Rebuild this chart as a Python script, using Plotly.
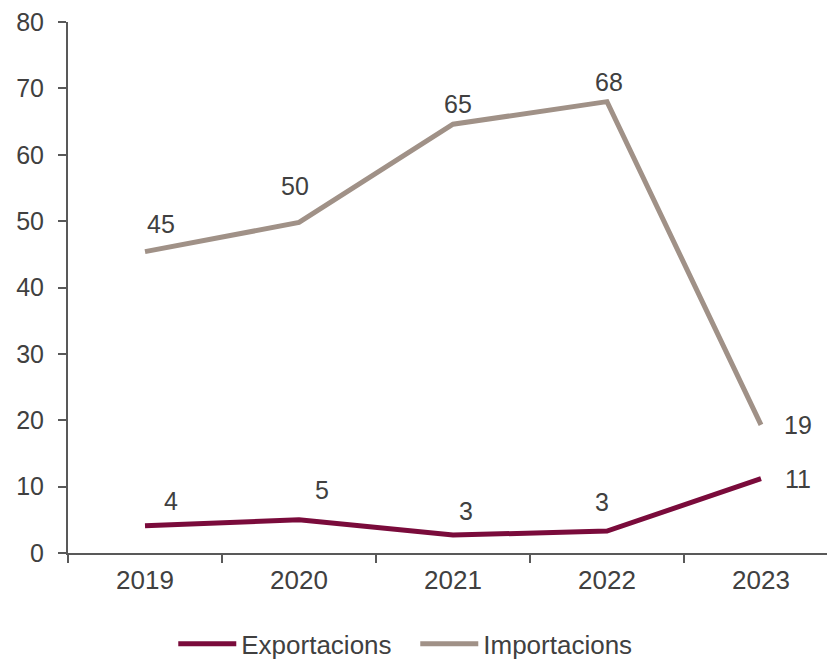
import plotly.graph_objects as go

years = ["2019", "2020", "2021", "2022", "2023"]
exportacions = [4.1, 5.0, 2.7, 3.3, 11.2]
importacions = [45.4, 49.8, 64.6, 68.0, 19.3]
export_labels = ["4", "5", "3", "3", "11"]
import_labels = ["45", "50", "65", "68", "19"]

y_ticks = [0, 10, 20, 30, 40, 50, 60, 70, 80]

C_EXP = "#7A0B3B"
C_IMP = "#A09187"
TXT = "#404040"
AX = "#595959"
FONT = "Liberation Sans, Arial, sans-serif"

fig = go.Figure()
fig.add_trace(go.Scatter(x=years, y=exportacions, mode="lines", name="Exportacions",
                         line=dict(color=C_EXP, width=5)))
fig.add_trace(go.Scatter(x=years, y=importacions, mode="lines", name="Importacions",
                         line=dict(color=C_IMP, width=5)))

exp_shift = [(26, 25), (23, 30), (13, 24), (-5, 29), (37, 0)]
imp_shift = [(16, 28), (-4, 36), (5, 20), (2, 20), (37, 0)]
for i, yr in enumerate(years):
    fig.add_annotation(x=i, y=exportacions[i], text=export_labels[i], showarrow=False,
                       xshift=exp_shift[i][0], yshift=exp_shift[i][1],
                       font=dict(size=25, color=TXT, family=FONT))
    fig.add_annotation(x=i, y=importacions[i], text=import_labels[i], showarrow=False,
                       xshift=imp_shift[i][0], yshift=imp_shift[i][1],
                       font=dict(size=25, color=TXT, family=FONT))

fig.update_layout(
    width=835, height=665,
    margin=dict(l=60, r=5, t=14, b=116),
    plot_bgcolor="white", paper_bgcolor="white",
    font=dict(family=FONT, size=26, color=TXT),
    showlegend=True,
    legend=dict(orientation="h", x=0.451, xanchor="center", y=-0.2155, yanchor="bottom",
                font=dict(size=26, color=TXT), itemwidth=58, entrywidth=169),
    xaxis=dict(type="category", range=[-0.5, 4.5], showline=True, linecolor=AX, linewidth=2,
               ticks="outside", tickson="boundaries", ticklen=8, tickwidth=2, tickcolor=AX,
               showgrid=False, tickfont=dict(size=26, color=TXT), ticklabelstandoff=3,
               automargin=False),
    yaxis=dict(range=[0, 80], tickvals=y_ticks, showline=True, linecolor=AX, linewidth=2,
               ticks="outside", ticklen=8, tickwidth=2, tickcolor=AX, showgrid=False,
               zeroline=False, tickfont=dict(size=25, color=TXT), ticklabelstandoff=9,
               ticklabeloverflow="allow", automargin=False),
)

fig.write_html("out.html")
